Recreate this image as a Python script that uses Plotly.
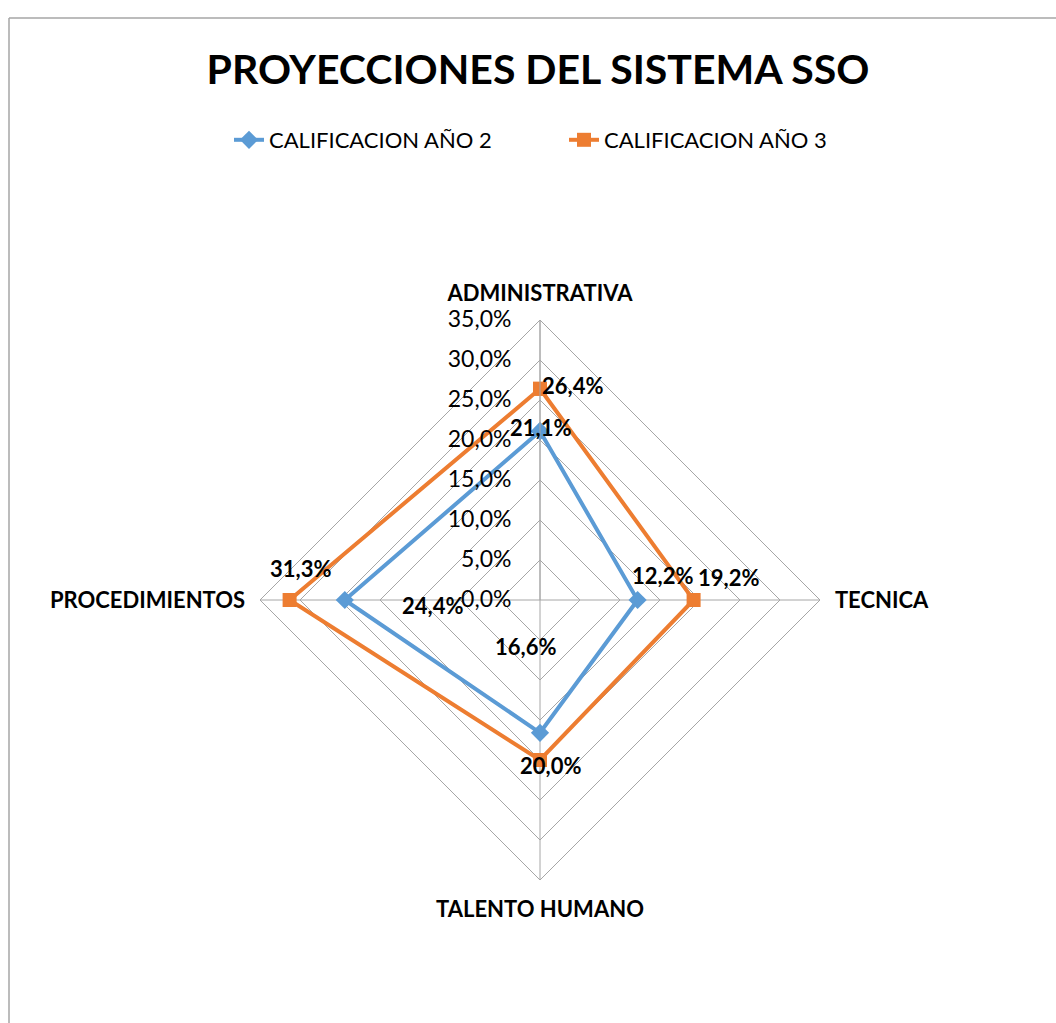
import math
import plotly.graph_objects as go

categories = ["ADMINISTRATIVA", "TECNICA", "TALENTO HUMANO", "PROCEDIMIENTOS"]
year2 = [0.211, 0.122, 0.166, 0.244]
year3 = [0.264, 0.192, 0.200, 0.313]
series_names = ["CALIFICACION AÑO 2", "CALIFICACION AÑO 3"]
radial_ticks = [0.0, 0.05, 0.10, 0.15, 0.20, 0.25, 0.30, 0.35]

BLUE = "#5B9BD5"
ORANGE = "#ED7D31"
FONT = "Lato"

W, H = 1056, 1023
CX, CY, R = 540, 600, 280
RMAX = 0.35

fig = go.Figure()

def closed(v):
    return list(v) + [v[0]]

fig.add_trace(go.Scatterpolar(
    r=closed(year2), theta=closed(categories), name=series_names[0],
    mode="lines+markers",
    line=dict(color=BLUE, width=4),
    marker=dict(symbol="diamond", size=14, color=BLUE),
))
fig.add_trace(go.Scatterpolar(
    r=closed(year3), theta=closed(categories), name=series_names[1],
    mode="lines+markers",
    line=dict(color=ORANGE, width=4),
    marker=dict(symbol="square", size=14, color=ORANGE),
))

# Label offsets (pixels) relative to each data point
offsets2 = [(0, 4), (25, 25), (-15, 71), (55, -5)]
offsets3 = [(32, 3), (35, 23), (10, -21), (-22, 32)]
angles = [0, 90, 180, 270]  # degrees clockwise from top

def to_paper(val, ang):
    rr = val / RMAX * R
    px = CX + rr * math.sin(math.radians(ang))
    py = CY - rr * math.cos(math.radians(ang))
    return px / W, 1 - py / H

def fmt(v):
    return f"{v*100:.1f}%".replace(".", ",")

annotations = []
for vals, offs in [(year2, offsets2), (year3, offsets3)]:
    for v, a, (dx, dy) in zip(vals, angles, offs):
        x, y = to_paper(v, a)
        annotations.append(dict(
            x=x, y=y, xref="paper", yref="paper", text=f"<b>{fmt(v)}</b>",
            showarrow=False, xshift=dx, yshift=dy,
            font=dict(family=FONT, size=22, color="black"),
        ))

fig.update_layout(
    width=W, height=H,
    margin=dict(l=0, r=0, t=0, b=0),
    paper_bgcolor="white",
    plot_bgcolor="white",
    separators=",.",
    title=dict(
        text="<b>PROYECCIONES DEL SISTEMA SSO</b>",
        x=538 / W, xanchor="center", y=1 - 70 / H, yanchor="middle",
        font=dict(family=FONT, size=41, color="black"),
    ),
    legend=dict(
        orientation="h", x=229 / W, xanchor="left", y=1 - 140 / H, yanchor="middle",
        font=dict(family=FONT, size=22, color="black"),
        entrywidth=290, entrywidthmode="pixels",
    ),
    polar=dict(
        domain=dict(x=[(CX - R) / W, (CX + R) / W], y=[1 - (CY + R) / H, 1 - (CY - R) / H]),
        gridshape="linear",
        bgcolor="white",
        angularaxis=dict(
            rotation=90, direction="clockwise",
            categoryorder="array", categoryarray=categories,
            showline=True, linecolor="#A6A6A6", linewidth=1,
            gridcolor="#A6A6A6", gridwidth=1,
            ticks="outside", ticklen=10, tickcolor="rgba(0,0,0,0)",
            tickfont=dict(family=FONT, size=22, color="black", weight="bold"),
        ),
        radialaxis=dict(
            range=[0, RMAX], angle=90, tickangle=90,
            tickvals=radial_ticks, tickformat=".1%",
            side="counterclockwise",
            showline=True, linecolor="#A6A6A6", linewidth=1,
            gridcolor="#A6A6A6", gridwidth=1,
            ticks="outside", ticklen=20, tickcolor="rgba(0,0,0,0)",
            tickfont=dict(family=FONT, size=23, color="black"),
        ),
    ),
    annotations=annotations,
    shapes=[
        dict(type="line", xref="paper", yref="paper", x0=9 / W, x1=9 / W, y0=-0.01, y1=1 - 18 / H,
             line=dict(color="#A6A6A6", width=1.5)),
        dict(type="line", xref="paper", yref="paper", x0=9 / W, x1=1.01, y0=1 - 18 / H, y1=1 - 18 / H,
             line=dict(color="#A6A6A6", width=1.5)),
    ],
)

fig.write_html("out.html", config={"displayModeBar": False},
               post_script="document.body.style.margin='0';")
